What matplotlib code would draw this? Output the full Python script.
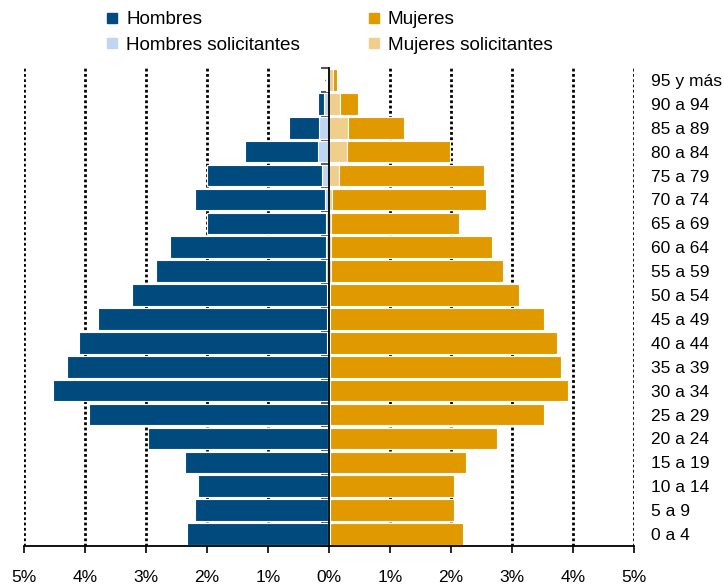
import numpy as np
import matplotlib.pyplot as plt
from matplotlib.lines import Line2D
from matplotlib.ticker import FixedLocator

plt.rcParams['font.family'] = ['Liberation Sans', 'DejaVu Sans']

age_groups = ['0 a 4', '5 a 9', '10 a 14', '15 a 19', '20 a 24', '25 a 29', '30 a 34',
              '35 a 39', '40 a 44', '45 a 49', '50 a 54', '55 a 59', '60 a 64', '65 a 69',
              '70 a 74', '75 a 79', '80 a 84', '85 a 89', '90 a 94', '95 y más']

# percent of population (totals include solicitantes)
hombres_total = [2.33, 2.20, 2.15, 2.36, 2.96, 3.94, 4.52, 4.30, 4.10, 3.79, 3.23, 2.84,
                 2.60, 2.00, 2.20, 2.00, 1.38, 0.65, 0.18, 0.05]
hombres_sol = [0.02, 0.02, 0.02, 0.02, 0.02, 0.02, 0.02, 0.02, 0.03, 0.03, 0.03, 0.05,
               0.05, 0.05, 0.07, 0.11, 0.18, 0.16, 0.09, 0.03]
mujeres_total = [2.19, 2.05, 2.05, 2.24, 2.75, 3.53, 3.92, 3.80, 3.73, 3.53, 3.11, 2.85,
                 2.67, 2.13, 2.57, 2.54, 1.99, 1.23, 0.47, 0.13]
mujeres_sol = [0.02, 0.02, 0.02, 0.02, 0.02, 0.02, 0.02, 0.02, 0.02, 0.02, 0.02, 0.03,
               0.03, 0.03, 0.05, 0.16, 0.30, 0.31, 0.18, 0.06]

x_ticks = [-5, -4, -3, -2, -1, 0, 1, 2, 3, 4, 5]
x_labels = ['5%', '4%', '3%', '2%', '1%', '0%', '1%', '2%', '3%', '4%', '5%']

c_h = '#004A7E'
c_h_sol = '#BFD5F2'
c_m = '#E09A00'
c_m_sol = '#F0CE8C'

ht = np.array(hombres_total)
hs = np.array(hombres_sol)
mt = np.array(mujeres_total)
ms = np.array(mujeres_sol)
y = np.arange(len(age_groups))

fig = plt.figure(figsize=(7.24, 5.86), dpi=100)
ax = fig.add_axes([24/724, 40/586, 610/724, 478/586])

# dotted grid lines
for xv in x_ticks:
    if xv != 0:
        ax.axvline(xv, color='black', linewidth=2.0, linestyle=(0, (1, 0.9)), zorder=0)

bh = 0.9
ax.barh(y, -hs, height=bh, color=c_h_sol, edgecolor='white', linewidth=0.8, zorder=2)
ax.barh(y, -(ht - hs), left=-hs, height=bh, color=c_h, edgecolor='white', linewidth=0.8, zorder=2)
ax.barh(y, ms, height=bh, color=c_m_sol, edgecolor='white', linewidth=0.8, zorder=2)
ax.barh(y, mt - ms, left=ms, height=bh, color=c_m, edgecolor='white', linewidth=0.8, zorder=2)

ax.set_xlim(-5, 5)
ax.set_ylim(-0.5, len(age_groups) - 0.5)

for s in ['top', 'right']:
    ax.spines[s].set_visible(False)
ax.spines['left'].set_position(('data', 0))
ax.spines['left'].set_zorder(3)
ax.spines['left'].set_linewidth(1.3)
ax.spines['bottom'].set_linewidth(1.3)

ax.set_xticks(x_ticks)
ax.set_xticklabels(x_labels)
ax.tick_params(axis='x', direction='out', length=5, width=1.2, pad=12, labelsize=12.5)

ax.set_yticks(y)
ax.set_yticklabels([])
ax.yaxis.set_minor_locator(FixedLocator(np.arange(-0.5, len(age_groups), 1.0)))
ax.tick_params(axis='y', which='major', direction='out', length=3, width=1, color='black')
ax.tick_params(axis='y', which='minor', direction='out', length=6, width=1.5, color='#555555')

sec = ax.secondary_yaxis('right')
sec.set_yticks(y)
sec.set_yticklabels(age_groups)
sec.tick_params(length=0, pad=12, labelsize=12.5)
sec.spines['right'].set_visible(False)

handles = [
    Line2D([], [], marker='s', linestyle='none', color=c_h, markersize=7),
    Line2D([], [], marker='s', linestyle='none', color=c_h_sol, markersize=7),
    Line2D([], [], marker='s', linestyle='none', color=c_m, markersize=7),
    Line2D([], [], marker='s', linestyle='none', color=c_m_sol, markersize=7),
]
labels = ['Hombres', 'Hombres solicitantes', 'Mujeres', 'Mujeres solicitantes']
fig.legend(handles, labels, ncol=2, loc='upper center', bbox_to_anchor=(0.455, 1.01),
           frameon=False, fontsize=13.6, handlelength=0.6, handletextpad=0.45,
           columnspacing=3.6, labelspacing=0.45)

fig.savefig('out.png', dpi=100)
